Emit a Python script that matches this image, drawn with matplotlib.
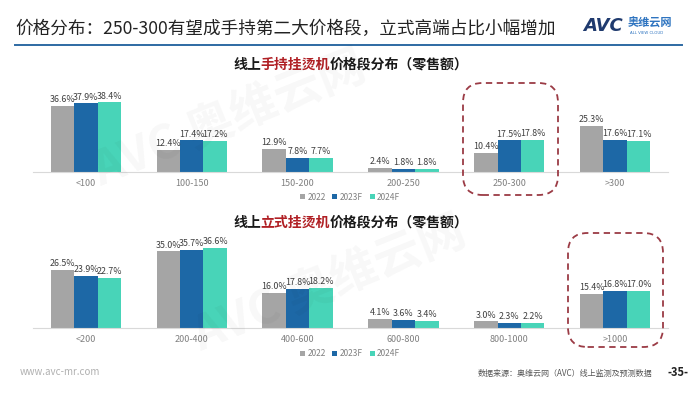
import matplotlib
matplotlib.use("Agg")
import matplotlib.pyplot as plt
import numpy as np
from matplotlib.patches import Patch, FancyBboxPatch
from matplotlib.lines import Line2D

plt.rcParams['font.family'] = ['Noto Sans CJK SC', 'DejaVu Sans']

W, H = 700, 394

series = ["2022", "2023F", "2024F"]
colors = ["#a5a5a5", "#1d68a6", "#48d4b8"]

hand_cats = ["<100", "100-150", "150-200", "200-250", "250-300", ">300"]
hand_2022 = [36.6, 12.4, 12.9, 2.4, 10.4, 25.3]
hand_2023 = [37.9, 17.4, 7.8, 1.8, 17.5, 17.6]
hand_2024 = [38.4, 17.2, 7.7, 1.8, 17.8, 17.1]

stand_cats = ["<200", "200-400", "400-600", "600-800", "800-1000", ">1000"]
stand_2022 = [26.5, 35.0, 16.0, 4.1, 3.0, 15.4]
stand_2023 = [23.9, 35.7, 17.8, 3.6, 2.3, 16.8]
stand_2024 = [22.7, 36.6, 18.2, 3.4, 2.2, 17.0]

title = "价格分布：250-300有望成手持第二大价格段，立式高端占比小幅增加"
source = "数据来源：奥维云网（AVC）线上监测及预测数据"

fig = plt.figure(figsize=(W / 100, H / 100), dpi=100)
fig.patch.set_facecolor("white")


def fx(px):
    return px / W


def fy(py):
    return 1 - py / H


def draw_chart(top_px, base_px, ymax, cats, vals, title_parts, legend_y):
    ax = fig.add_axes([fx(33), fy(base_px), fx(668 - 33), (base_px - top_px) / H])
    x = np.arange(len(cats))
    bw = 0.222
    for i, (v, c) in enumerate(zip(vals, colors)):
        bars = ax.bar(x + (i - 1) * bw, v, bw, color=c, label=series[i], zorder=2)
        for b, val in zip(bars, v):
            ax.text(b.get_x() + b.get_width() / 2, val + ymax * 0.02, f"{val:.1f}%",
                    ha="center", va="bottom", fontsize=6.4, color="#404040")
    ax.set_xlim(-0.5, len(cats) - 0.5)
    ax.set_ylim(0, ymax)
    ax.set_xticks(x)
    ax.set_xticklabels(cats, fontsize=6.5, color="#808080")
    ax.tick_params(axis="x", length=0, pad=5)
    ax.set_yticks([])
    for s in ["top", "right", "left"]:
        ax.spines[s].set_visible(False)
    ax.spines["bottom"].set_color("#d9d9d9")
    ax.patch.set_alpha(0)

    # chart title, middle part in red
    t = fig.text(fx(233), fy(title_parts[3]), title_parts[0], fontsize=10,
                 fontweight="bold", color="#1a1a1a", va="center", ha="left")
    t2 = plt.annotate(title_parts[1], xy=(1, 0.5), xycoords=t, va="center", ha="left",
                      fontsize=10, fontweight="bold", color="#b01f24")
    plt.annotate(title_parts[2], xy=(1, 0.5), xycoords=t2, va="center", ha="left",
                 fontsize=10, fontweight="bold", color="#1a1a1a")

    handles = [Patch(facecolor=c, edgecolor="none") for c in colors]
    fig.legend(handles, series, loc="center", bbox_to_anchor=(fx(350), fy(legend_y)),
               ncol=3, frameon=False, fontsize=6, labelcolor="#808080",
               handlelength=0.6, handleheight=0.6, handletextpad=0.3, columnspacing=0.8)
    return ax


draw_chart(88, 172, 46.3, hand_cats, [hand_2022, hand_2023, hand_2024],
           ["线上", "手持挂烫机", "价格段分布（零售额）", 65], 197)
draw_chart(238, 328, 41.1, stand_cats, [stand_2022, stand_2023, stand_2024],
           ["线上", "立式挂烫机", "价格段分布（零售额）", 223], 354)

# dashed highlight boxes
for (x0, y0, x1, y1) in [(463, 83, 558, 195), (568, 233, 663, 347)]:
    box = FancyBboxPatch((fx(x0), fy(y1)), fx(x1 - x0), (y1 - y0) / H,
                         boxstyle="round,pad=0,rounding_size=0.028",
                         transform=fig.transFigure, fill=False,
                         edgecolor="#9b3b45", linewidth=1.3, linestyle=(0, (3.5, 2.5)),
                         mutation_aspect=W / H)
    fig.patches.append(box)

# header
fig.text(fx(15), fy(29), title, fontsize=12.7, color="#222222", va="center", ha="left")
fig.lines.append(Line2D([fx(15), fx(682)], [fy(44.5), fy(44.5)], transform=fig.transFigure,
                        color="#2e6aa3", linewidth=1.4))
fig.text(fx(583), fy(26), "AVC", fontsize=13, fontweight="bold", color="#1f3a6e",
         va="center", ha="left", family="DejaVu Sans", style="italic")
fig.text(fx(628), fy(23), "奥维云网", fontsize=8, fontweight="bold", color="#2e74c0",
         va="center", ha="left")
fig.text(fx(630), fy(33), "ALL VIEW CLOUD", fontsize=2.8, color="#2e74c0",
         va="center", ha="left", family="DejaVu Sans")

# watermarks
for (wx, wy) in [(230, 120), (330, 285)]:
    fig.text(fx(wx), fy(wy), "AVC 奥维云网", fontsize=34, fontweight="bold", color="#000000",
             alpha=0.03, rotation=22, ha="center", va="center")

# footer
fig.text(fx(20), fy(372), "www.avc-mr.com", fontsize=7, color="#b0b0b0", va="center", ha="left")
fig.text(fx(652), fy(373), source, fontsize=5.8, color="#555555", va="center", ha="right")
fig.text(fx(668), fy(373), "-35-", fontsize=8, fontweight="bold", color="#222222",
         va="center", ha="left")

fig.savefig("out.png", dpi=100, facecolor="white")
